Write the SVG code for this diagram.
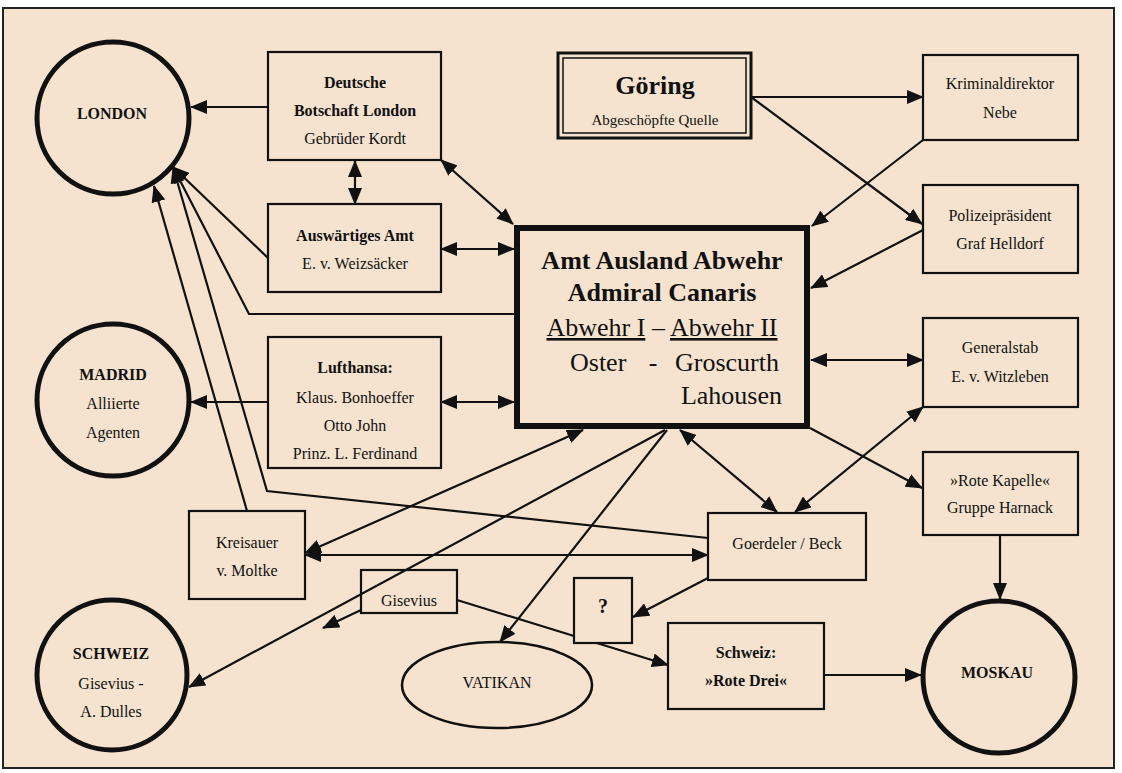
<svg xmlns="http://www.w3.org/2000/svg" width="1122" height="773" viewBox="0 0 1122 773">
<defs>
<style>
text{font-family:"Liberation Serif","Times New Roman",serif;fill:#111;text-anchor:middle}
.b{font-weight:bold}
.s{font-size:16px}
.big{font-size:26px}
.box{fill:#F5E3CF;stroke:#111;stroke-width:2.2}
.city{fill:#F5E3CF;stroke:#111;stroke-width:5}
.c{fill:none;stroke:#111;stroke-width:2.2}
.e{marker-end:url(#ah)}
.d{marker-start:url(#ah);marker-end:url(#ah)}
</style>
<marker id="ah" viewBox="0 0 17 14" refX="16" refY="7" markerWidth="17" markerHeight="14" markerUnits="userSpaceOnUse" orient="auto-start-reverse"><path d="M0,0 L17,7 L0,14 z" fill="#111"/></marker>
</defs>
<rect x="0" y="0" width="1122" height="773" fill="#ffffff"/>
<rect x="3" y="8" width="1111" height="760" fill="#F5E3CF" stroke="#222" stroke-width="2"/>

<g id="connectors">
<line class="c e" x1="268" y1="107" x2="191" y2="107"/>
<line class="c d" x1="355" y1="161" x2="355" y2="204"/>
<line class="c d" x1="441" y1="160" x2="513" y2="224"/>
<line class="c d" x1="441" y1="249" x2="514" y2="249"/>
<line class="c e" x1="268" y1="258" x2="173" y2="167"/>
<polyline class="c e" points="514,314 249,314 173,167"/>
<polyline class="c e" points="708,538 267,491 173,167"/>
<line class="c e" x1="247" y1="511" x2="154" y2="186"/>
<line class="c d" x1="441" y1="402" x2="514" y2="402"/>
<line class="c e" x1="268" y1="402" x2="191" y2="402"/>
<line class="c e" x1="751" y1="97" x2="923" y2="97"/>
<line class="c e" x1="751" y1="97" x2="922" y2="224"/>
<line class="c e" x1="923" y1="140" x2="812" y2="226"/>
<line class="c e" x1="923" y1="230" x2="811" y2="288"/>
<line class="c d" x1="811" y1="360" x2="923" y2="360"/>
<line class="c e" x1="810" y1="428" x2="922" y2="488"/>
<line class="c d" x1="923" y1="407" x2="795" y2="512"/>
<line class="c d" x1="680" y1="430" x2="777" y2="512"/>
<line class="c d" x1="583" y1="430" x2="305" y2="553"/>
<line class="c e" x1="665" y1="430" x2="189" y2="687"/>
<line class="c e" x1="667" y1="430" x2="500" y2="642"/>
<line class="c d" x1="305" y1="555" x2="708" y2="555"/>
<line class="c e" x1="708" y1="578" x2="633" y2="617"/>
<line class="c e" x1="457" y1="600" x2="668" y2="665"/>
<line class="c e" x1="361" y1="610" x2="323" y2="628"/>
<line class="c e" x1="824" y1="675" x2="921" y2="675"/>
<line class="c e" x1="1000" y1="535" x2="1000" y2="599"/>
</g>

<g id="london">
<circle class="city" cx="113" cy="118" r="76"/>
<text class="s b" x="112" y="119">LONDON</text>
</g>
<g id="madrid">
<circle class="city" cx="113" cy="400" r="76"/>
<text class="s b" x="113" y="380">MADRID</text>
<text class="s" x="113" y="409">Alliierte</text>
<text class="s" x="113" y="438">Agenten</text>
</g>
<g id="schweiz">
<circle class="city" cx="112" cy="675" r="75"/>
<text class="s b" x="111" y="659">SCHWEIZ</text>
<text class="s" x="111" y="689">Gisevius -</text>
<text class="s" x="111" y="717">A. Dulles</text>
</g>
<g id="moskau">
<circle class="city" cx="999" cy="677" r="76"/>
<text class="s b" x="997" y="678">MOSKAU</text>
</g>
<g id="vatikan">
<ellipse cx="497" cy="685" rx="95" ry="43" fill="#F5E3CF" stroke="#111" stroke-width="2.5"/>
<text class="s" x="497" y="688">VATIKAN</text>
</g>

<g id="botschaft">
<rect class="box" x="268" y="52" width="173" height="108"/>
<text class="s b" x="355" y="88">Deutsche</text>
<text class="s b" x="355" y="116">Botschaft London</text>
<text class="s" x="355" y="144">Gebrüder Kordt</text>
</g>
<g id="auswaertiges">
<rect class="box" x="268" y="204" width="173" height="88"/>
<text class="s b" x="355" y="241">Auswärtiges Amt</text>
<text class="s" x="355" y="269">E. v. Weizsäcker</text>
</g>
<g id="lufthansa">
<rect class="box" x="268" y="337" width="173" height="131"/>
<text class="s b" x="355" y="373">Lufthansa:</text>
<text class="s" x="355" y="403">Klaus. Bonhoeffer</text>
<text class="s" x="355" y="431">Otto John</text>
<text class="s" x="355" y="459">Prinz. L. Ferdinand</text>
</g>

<g id="abwehr">
<rect x="517" y="228" width="290" height="198" fill="#F5E3CF" stroke="#111" stroke-width="6"/>
<text class="big b" x="662" y="269">Amt Ausland Abwehr</text>
<text class="big b" x="662" y="301">Admiral Canaris</text>
<text class="big" x="662" y="336"><tspan style="text-decoration:underline">Abwehr I</tspan> – <tspan style="text-decoration:underline">Abwehr II</tspan></text>
<text class="big" x="570" y="371" style="text-anchor:start">Oster</text>
<text class="big" x="653" y="371">-</text>
<text class="big" x="779" y="371" style="text-anchor:end">Groscurth</text>
<text class="big" x="782" y="404" style="text-anchor:end">Lahousen</text>
</g>

<g id="goering">
<rect x="558" y="53" width="193" height="85" fill="#F5E3CF" stroke="#111" stroke-width="3"/>
<rect x="563" y="58" width="183" height="75" fill="none" stroke="#111" stroke-width="1.5"/>
<text class="big b" x="655" y="94">Göring</text>
<text x="655" y="125" style="font-size:15px">Abgeschöpfte Quelle</text>
</g>

<g id="nebe">
<rect class="box" x="923" y="55" width="155" height="85"/>
<text class="s" x="1000" y="89">Kriminaldirektor</text>
<text class="s" x="1000" y="118">Nebe</text>
</g>
<g id="helldorf">
<rect class="box" x="923" y="185" width="155" height="88"/>
<text class="s" x="1000" y="221">Polizeipräsident</text>
<text class="s" x="1000" y="249">Graf Helldorf</text>
</g>
<g id="generalstab">
<rect class="box" x="923" y="318" width="155" height="89"/>
<text class="s" x="1000" y="353">Generalstab</text>
<text class="s" x="1000" y="382">E. v. Witzleben</text>
</g>
<g id="rotekapelle">
<rect class="box" x="923" y="452" width="155" height="83"/>
<text class="s" x="1000" y="486">»Rote Kapelle«</text>
<text class="s" x="1000" y="513">Gruppe Harnack</text>
</g>
<g id="goerdeler">
<rect class="box" x="708" y="513" width="158" height="67"/>
<text class="s" x="787" y="549">Goerdeler / Beck</text>
</g>
<g id="kreisauer">
<rect class="box" x="189" y="511" width="116" height="88"/>
<text class="s" x="247" y="548">Kreisauer</text>
<text class="s" x="247" y="576">v. Moltke</text>
</g>
<g id="gisevius">
<rect x="361" y="570" width="96" height="43" fill="none" stroke="#111" stroke-width="2.2"/>
<text class="s" x="409" y="606">Gisevius</text>
</g>
<g id="frage">
<rect class="box" x="574" y="578" width="58" height="65"/>
<text class="b" x="603" y="613" style="font-size:20px">?</text>
</g>
<g id="rotedrei">
<rect class="box" x="668" y="623" width="156" height="86"/>
<text class="s b" x="746" y="658">Schweiz:</text>
<text class="s b" x="746" y="686">»Rote Drei«</text>
</g>
</svg>
